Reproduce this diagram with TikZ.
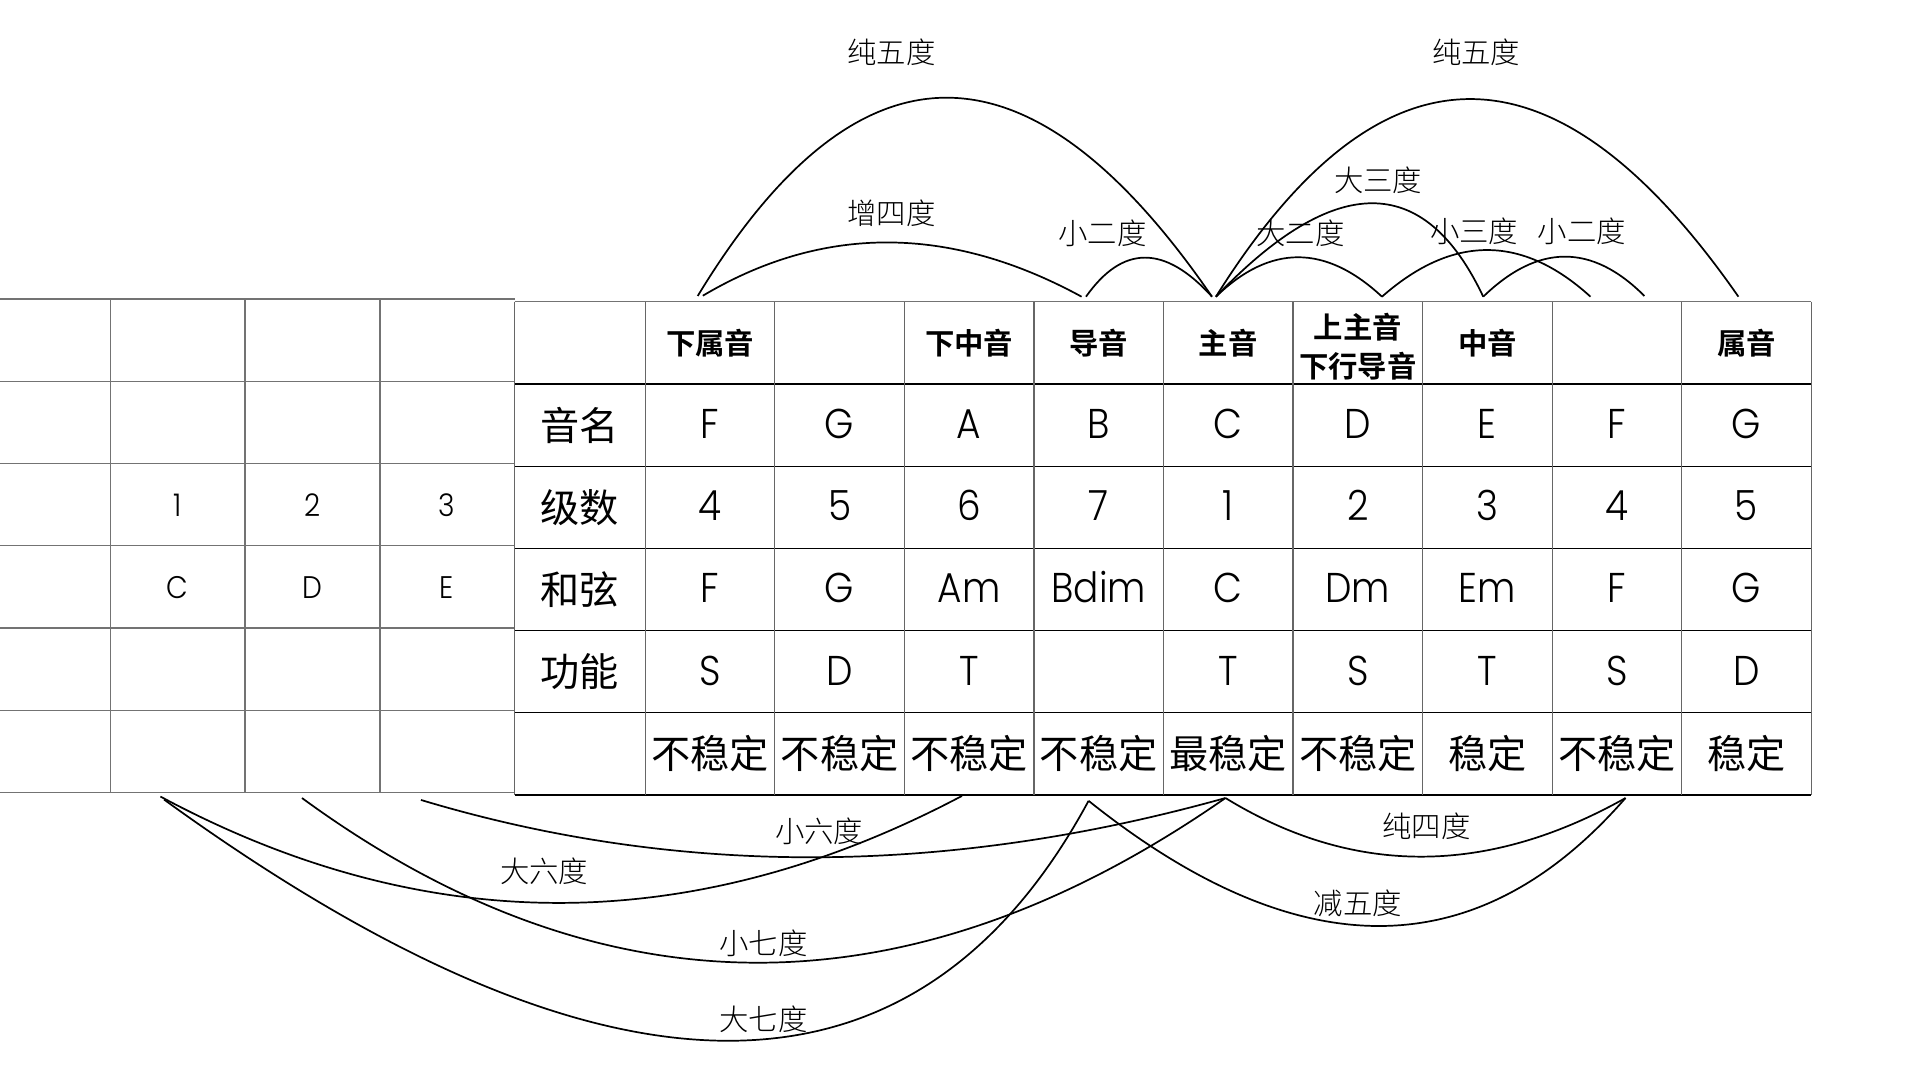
\documentclass[tikz,border=0pt]{standalone}
\usepackage{fontspec}
\usetikzlibrary{calc}
\newfontfamily\cjk{Noto Sans CJK SC}
\IfFontExistsTF{Noto Sans CJK SC Bold}{\newfontfamily\cjkb{Noto Sans CJK SC Bold}}{\newfontfamily\cjkb{Noto Sans CJK SC}}
\IfFontExistsTF{Noto Sans CJK SC Light}{\newfontfamily\cjkl{Noto Sans CJK SC Light}}{\newfontfamily\cjkl{Noto Sans CJK SC}}
\IfFontExistsTF{Poppins Light}{\newfontfamily\lat{Poppins Light}[FakeStretch=0.9]}{\newfontfamily\lat{Poppins}[FakeStretch=0.9]}
% quadratic arc from #1 via control #2 to #3, as a cubic
\newcommand\qarc[3]{\draw[arcline] (#1) .. controls ($(#1)!0.6667!(#2)$) and ($(#3)!0.6667!(#2)$) .. (#3);}
\begin{document}
\begin{tikzpicture}[x=1pt,y=-1pt,
  lline/.style={line width=1pt, black!55},
  hline/.style={line width=1pt, black},
  tline/.style={line width=1pt, black!55},
  vline/.style={line width=1pt, black!60},
  arcline/.style={line width=1.4pt, black},
  hdr/.style={font=\cjkb\fontsize{24}{32}\selectfont, align=center, inner sep=0pt},
  cn/.style={font=\cjk\fontsize{32}{36}\selectfont, inner sep=0pt},
  val/.style={font=\lat\fontsize{34}{36}\selectfont, anchor=base, inner sep=0pt},
  sm/.style={font=\lat\fontsize{25.5}{27}\selectfont, anchor=base, inner sep=0pt},
  ilab/.style={font=\cjkl\fontsize{24}{26}\selectfont, inner sep=0pt}]
\useasboundingbox (0,0) rectangle (1568,882);
\fill[white] (0,0) rectangle (1568,882);

% ---- left block grid ----
\foreach \k in {0,...,6} \draw[lline] (0,{244.2+67.15*\k}) -- (420.3,{244.2+67.15*\k});
\foreach \x in {90,200.1,310.3} \draw[lline] (\x,244.2) -- (\x,647.1);

% ---- right block grid ----
\draw[tline] (420.3,246.4) -- (1479.2,246.4);
\foreach \k in {1,...,6} \draw[hline] (420.3,{246.4+67.15*\k}) -- (1479.2,{246.4+67.15*\k});
\draw[vline] (420.3,246.4) -- (420.3,649.3);
\foreach \k in {0,...,9} \draw[vline] ({527+105.8*\k},246.4) -- ({527+105.8*\k},649.3);

% ---- header row ----
\node[hdr] (h1) at (579.9,280) {下属音};
\node[hdr] (h3) at (791.5,280) {下中音};
\node[hdr] (h4) at (897.3,280) {导音};
\node[hdr] (h5) at (1003.1,280) {主音};
\node[hdr] (h6) at (1108.9,283) {上主音\\下行导音};
\node[hdr] (h7) at (1214.7,280) {中音};
\node[hdr] (h9) at (1426.3,280) {属音};

% ---- row labels ----
\node[cn] (Lname)  at (473.6,347.1) {音名};
\node[cn] (Ldeg)   at (473.6,414.3) {级数};
\node[cn] (Lchord) at (473.6,481.4) {和弦};
\node[cn] (Lfunc)  at (473.6,548.6) {功能};

% ---- values ----
\foreach \t [count=\i] in {F,G,A,B,C,D,E,F,G}
  \node[val] (n\i) at ({527+105.8*(\i-0.5)},358.1) {\t};
\foreach \t [count=\i] in {4,5,6,7,1,2,3,4,5}
  \node[val] (d\i) at ({527+105.8*(\i-0.5)},425.3) {\t};
\foreach \t [count=\i] in {F,G,Am,Bdim,C,Dm,Em,F,G}
  \node[val] (c\i) at ({527+105.8*(\i-0.5)},492.4) {\t};
\node[val] (f1) at (579.9,559.6) {S};
\node[val] (f2) at (685.7,559.6) {D};
\node[val] (f3) at (791.5,559.6) {T};
\node[val] (f5) at (1003.1,559.6) {T};
\node[val] (f6) at (1108.9,559.6) {S};
\node[val] (f7) at (1214.7,559.6) {T};
\node[val] (f8) at (1320.5,559.6) {S};
\node[val] (f9) at (1426.3,559.6) {D};
\foreach \t [count=\i] in {不稳定,不稳定,不稳定,不稳定,最稳定,不稳定,稳定,不稳定,稳定}
  \node[cn] (s\i) at ({527+105.8*(\i-0.5)},615.7) {\t};

% ---- left block values ----
\node[sm] (l1) at (145,421.5) {1};
\node[sm] (l2) at (255,421.5) {2};
\node[sm] (l3) at (365,421.5) {3};
\node[sm] (lc1) at (145,489) {C};
\node[sm] (lc2) at (255,489) {D};
\node[sm] (lc3) at (365,489) {E};

% ---- top arc end points and control points ----
\coordinate (aF)  at (569.8,241.7);
\coordinate (aF2) at (574,241.5);
\coordinate (aB1) at (883.3,242.3);
\coordinate (aB2) at (886.9,242.3);
\coordinate (aC1) at (989.8,242.3);
\coordinate (aC2) at (993,242.3);
\coordinate (aD)  at (1128.6,242.3);
\coordinate (aE)  at (1211.3,242.3);
\coordinate (aF3) at (1298.9,242.3);
\coordinate (aF4) at (1342.9,241.7);
\coordinate (aG)  at (1419.7,242.3);
\coordinate (q1) at (766.6,-82.4);
\coordinate (q2) at (721.4,154.1);
\coordinate (q3) at (931.9,178.5);
\coordinate (q4) at (1059.4,177.9);
\coordinate (q5) at (1139.2,89.7);
\coordinate (q6) at (1215.1,166.1);
\coordinate (q7) at (1278.5,177.2);
\coordinate (q8) at (1195,-80.5);

\qarc{aF}{q1}{aC1}
\qarc{aF2}{q2}{aB1}
\qarc{aB2}{q3}{aC1}
\qarc{aC2}{q4}{aD}
\qarc{aC2}{q5}{aE}
\qarc{aD}{q6}{aF3}
\qarc{aE}{q7}{aF4}
\qarc{aC2}{q8}{aG}

\node[ilab] (t1) at (728,43) {纯五度};
\node[ilab] (t2) at (1205.5,43) {纯五度};
\node[ilab] (t3) at (728,174) {增四度};
\node[ilab] (t4) at (900.5,190.5) {小二度};
\node[ilab] (t5) at (1062,190.5) {大二度};
\node[ilab] (t6) at (1125.5,147.5) {大三度};
\node[ilab] (t7) at (1204,188.5) {小三度};
\node[ilab] (t8) at (1292,188.5) {小二度};

% ---- bottom arc end points and control points ----
\coordinate (bC1)  at (131,650.5);
\coordinate (bC1b) at (134,653);
\coordinate (bD1)  at (246.6,651.7);
\coordinate (bE1)  at (343.8,653.3);
\coordinate (bA)   at (785.6,650);
\coordinate (bB)   at (889,654);
\coordinate (bC)   at (1000.8,651.7);
\coordinate (bF)   at (1327.5,651.7);
\coordinate (p1) at (676.9,1046.4);
\coordinate (p2) at (455.2,824.5);
\coordinate (p3) at (614.3,920.7);
\coordinate (p4) at (657.3,747.7);
\coordinate (p5) at (1156.9,747.5);
\coordinate (p6) at (1146.3,859.6);

\qarc{bC1b}{p1}{bB}
\qarc{bC1}{p2}{bA}
\qarc{bD1}{p3}{bC}
\qarc{bE1}{p4}{bC}
\qarc{bC}{p5}{bF}
\qarc{bB}{p6}{bF}

\node[ilab] (u1) at (669,679) {小六度};
\node[ilab] (u2) at (444.5,711.5) {大六度};
\node[ilab] (u3) at (623.5,770) {小七度};
\node[ilab] (u4) at (623.5,832.5) {大七度};
\node[ilab] (u5) at (1165,675) {纯四度};
\node[ilab] (u6) at (1109,737.5) {减五度};
\end{tikzpicture}
\end{document}
